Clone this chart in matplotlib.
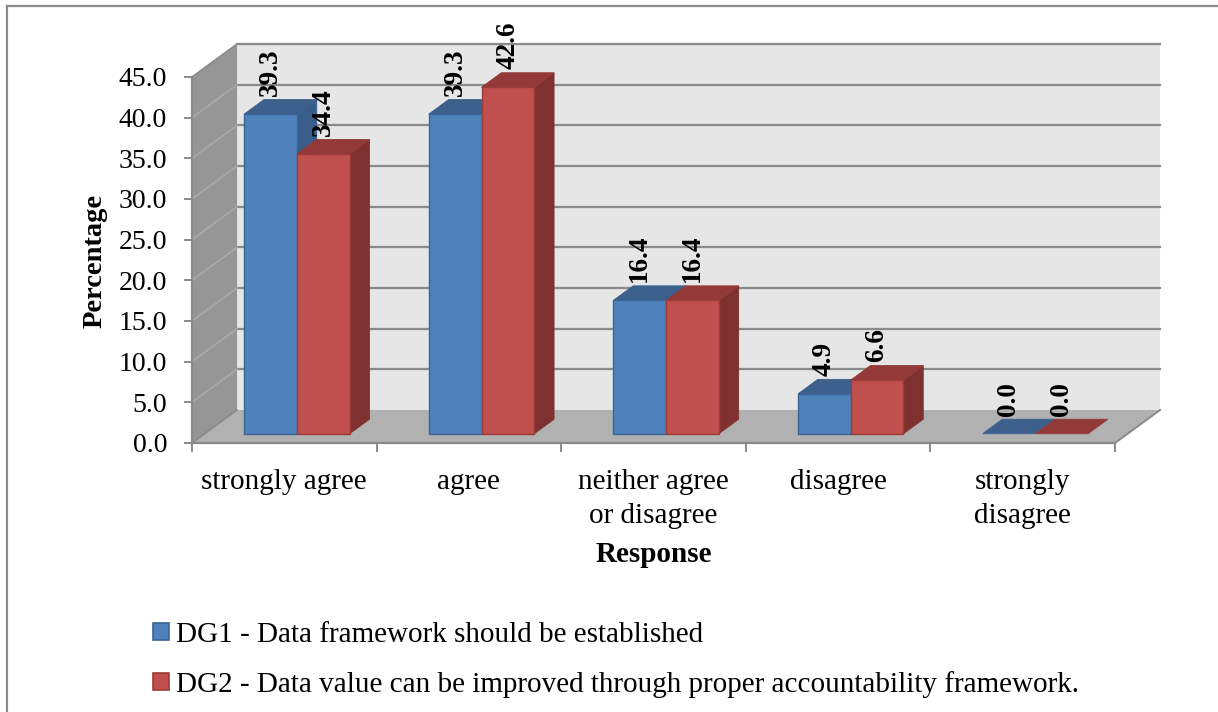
import matplotlib
matplotlib.use("Agg")
import matplotlib.pyplot as plt
from matplotlib.patches import Polygon, Rectangle, Patch
from matplotlib.lines import Line2D

plt.rcParams["font.family"] = ["Liberation Serif", "DejaVu Serif"]

# ---- data ----
categories = ["strongly agree", "agree", "neither agree\nor disagree", "disagree", "strongly\ndisagree"]
dg1_values = [39.3, 39.3, 16.4, 4.9, 0.0]
dg2_values = [34.4, 42.6, 16.4, 6.6, 0.0]
series_labels = [
    "DG1 - Data framework should be established",
    "DG2 - Data value can be improved through proper accountability framework.",
]
y_ticks = [0, 5, 10, 15, 20, 25, 30, 35, 40, 45]

# ---- style ----
W, H, DPI = 1218, 712, 100
blue = dict(face="#4f81bd", top="#3c5f8c", side="#385d8a", edge="#3b6496")
red = dict(face="#c0504d", top="#933a38", side="#7f3130", edge="#9b3c3a")
wall_back = "#e6e6e6"
wall_side = "#969696"
floor_col = "#b1b1b1"
grid_col = "#8a8a8a"
side_grid = "#a9a9a9"

# depth of the 3D box, in data units (category units, value units)
DX, DY = 0.244, 4.06
# bars sit between these fractions of the floor depth
T0, T1 = 0.28, 0.72
bar_w = 1 / 3.5  # gap width 150 %

fig = plt.figure(figsize=(W / DPI, H / DPI), dpi=DPI)
ax = fig.add_axes([192 / W, (H - 443) / H, (1115 - 192) / W, (443 - 77) / H])
ax.set_xlim(0, len(categories))
ax.set_ylim(0, 45)
ax.patch.set_visible(False)
ymax = y_ticks[-1]
n = len(categories)

# ---- walls and floor ----
ax.add_patch(Polygon([(DX, DY), (n + DX, DY), (n + DX, ymax + DY), (DX, ymax + DY)],
                     closed=True, fc=wall_back, ec="none", clip_on=False, zorder=0))
ax.add_patch(Polygon([(0, 0), (DX, DY), (DX, ymax + DY), (0, ymax)],
                     closed=True, fc=wall_side, ec="none", clip_on=False, zorder=0))
ax.add_patch(Polygon([(0, 0), (n, 0), (n + DX, DY), (DX, DY)],
                     closed=True, fc=floor_col, ec="none", clip_on=False, zorder=0))

for v in y_ticks:
    if v > 0:
        ax.add_line(Line2D([DX, n + DX], [v + DY, v + DY], color=grid_col, lw=1.6,
                           clip_on=False, zorder=1))
    ax.add_line(Line2D([0, DX], [v, v + DY], color=side_grid if 0 < v < ymax else grid_col,
                       lw=1.2, clip_on=False, zorder=1))
# floor edges
ax.add_line(Line2D([n, n + DX], [0, DY], color=grid_col, lw=1.4, clip_on=False, zorder=1))


def draw_bar(x0, value, c):
    fx, fy = x0 + T0 * DX, T0 * DY
    bx, by = (T1 - T0) * DX, (T1 - T0) * DY
    side = [(fx + bar_w, fy), (fx + bar_w + bx, fy + by),
            (fx + bar_w + bx, fy + value + by), (fx + bar_w, fy + value)]
    top = [(fx, fy + value), (fx + bar_w, fy + value),
           (fx + bar_w + bx, fy + value + by), (fx + bx, fy + value + by)]
    if value > 0:
        ax.add_patch(Polygon(side, closed=True, fc=c["side"], ec=c["side"], lw=0.6,
                             clip_on=False, zorder=3))
    ax.add_patch(Polygon(top, closed=True, fc=c["top"], ec=c["top"], lw=0.6,
                         clip_on=False, zorder=3))
    if value > 0:
        ax.add_patch(Rectangle((fx, fy), bar_w, value, fc=c["face"], ec=c["edge"], lw=1.0,
                               clip_on=False, zorder=3))
    ax.text(fx + bar_w / 2, fy + value + by + 0.45, f"{value:.1f}", rotation=90,
            ha="center", va="bottom", fontsize=19.5, fontweight="bold", zorder=5,
            clip_on=False)


for i in range(n):
    draw_bar(i + 0.5 - bar_w, dg1_values[i], blue)
    draw_bar(i + 0.5, dg2_values[i], red)

# ---- axes ----
for s in ["top", "right"]:
    ax.spines[s].set_visible(False)
for s in ["left", "bottom"]:
    ax.spines[s].set_color(grid_col)
    ax.spines[s].set_linewidth(1.6)
    ax.spines[s].set_zorder(2)

ax.set_yticks(y_ticks)
ax.set_yticklabels([f"{v:.1f}" for v in y_ticks])
ax.tick_params(axis="y", length=6, width=1.4, color=grid_col, pad=12, labelsize=20)

ax.set_xticks([i + 0.5 for i in range(n)])
ax.set_xticklabels(categories, linespacing=1.38)
ax.set_xticks(list(range(n + 1)), minor=True)
ax.tick_params(axis="x", which="major", length=0, pad=19, labelsize=21)
ax.tick_params(axis="x", which="minor", length=6.5, width=1.4, color=grid_col)

ax.set_ylabel("Percentage", fontsize=20.5, fontweight="bold", va="center")
ax.yaxis.set_label_coords(-0.105, 0.497)
ax.set_xlabel("Response", fontsize=21, fontweight="bold", va="center")
ax.xaxis.set_label_coords(0.5005, -0.306)

# ---- legend ----
handles = [Patch(fc=blue["face"], ec=blue["edge"], lw=1.2),
           Patch(fc=red["face"], ec=red["edge"], lw=1.2)]
fig.legend(handles, series_labels, loc="upper left",
           bbox_to_anchor=(153 / W, 1 - 622 / H), frameon=False, fontsize=21,
           handlelength=0.55, handleheight=0.55, handletextpad=0.25,
           labelspacing=0.78, borderaxespad=0, borderpad=0)

# ---- chart border ----
fig.add_artist(Line2D([7 / W, 7 / W], [0, 1 - 6 / H], transform=fig.transFigure,
                      color="#8c8c8c", lw=1.6))
fig.add_artist(Line2D([7 / W, 1], [1 - 6 / H, 1 - 6 / H], transform=fig.transFigure,
                      color="#8c8c8c", lw=1.6))

fig.savefig("out.png", dpi=DPI, facecolor="white")
